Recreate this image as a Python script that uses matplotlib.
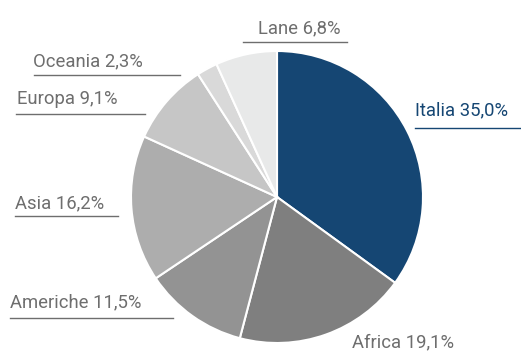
import matplotlib
matplotlib.use("Agg")
import matplotlib.pyplot as plt

regions = ["Italia", "Africa", "Americhe", "Asia", "Europa", "Oceania", "Lane"]
shares = [35.0, 19.1, 11.5, 16.2, 9.1, 2.3, 6.8]
colors = ["#154673", "#7f7f7f", "#939393", "#adadad", "#c6c6c6", "#d9d9d9", "#e8e9e9"]

W, H = 521, 353
fig = plt.figure(figsize=(W / 100, H / 100), dpi=100)
ax = fig.add_axes([0, 0, 1, 1])

cx, cy, r = 277, H - 197, 146
ax.pie(shares, colors=colors, startangle=90, counterclock=False,
       center=(cx, cy), radius=r, frame=True,
       wedgeprops=dict(edgecolor="white", linewidth=1.5))
ax.set_xlim(0, W)
ax.set_ylim(0, H)
ax.set_aspect("equal")
ax.axis("off")

# label layout: (text x, text y, underline x0, underline x1, underline y, color)
layout = {
    "Lane": (258, 28, 243, 347, 41.5, "#6e6e6e"),
    "Oceania": (33, 61, 34, 180, 75, "#6e6e6e"),
    "Europa": (17, 99, 16, 145, 114, "#6e6e6e"),
    "Italia": (415, 110.5, 415, 521, 127.5, "#154673"),
    "Asia": (15, 203, 15, 118, 216, "#6e6e6e"),
    "Americhe": (10, 302, 10, 173, 318, "#6e6e6e"),
    "Africa": (352, 342.5, None, None, None, "#6e6e6e"),
}

for name, val in zip(regions, shares):
    tx, ty, x0, x1, ly, col = layout[name]
    label = f"{name} {val:.1f}".replace(".", ",") + "%"
    ax.text(tx, H - ty, label, fontsize=13.3, color=col, ha="left", va="center",
            family="Roboto")
    if x0 is not None:
        ax.plot([x0, x1], [H - ly, H - ly], color=col, linewidth=1.0)

fig.savefig("out.png", dpi=100)
